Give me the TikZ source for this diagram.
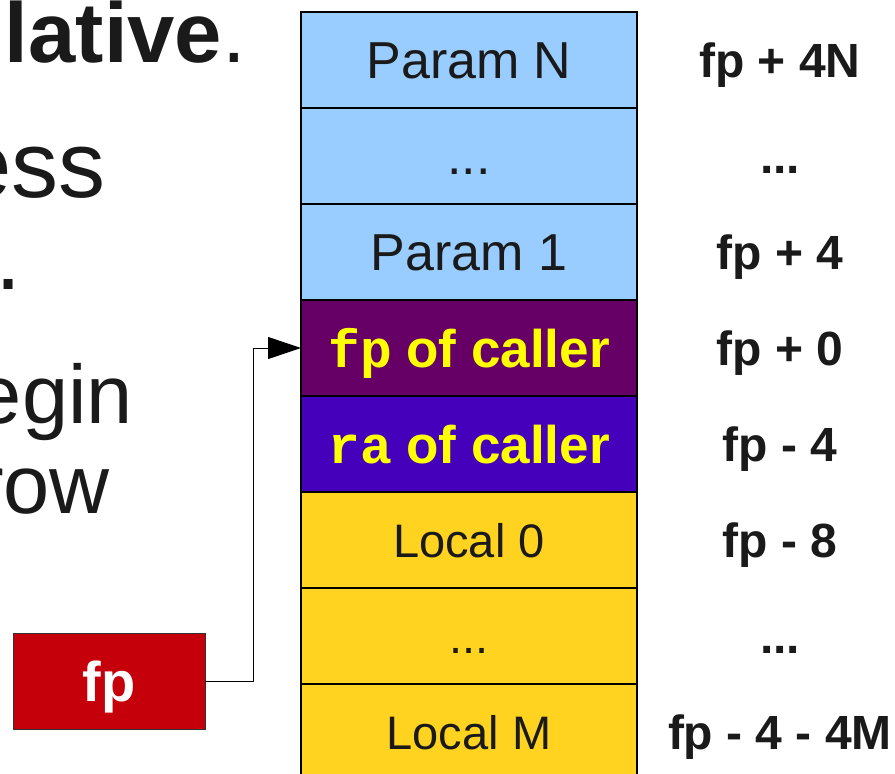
\documentclass[tikz,border=0pt]{standalone}
\usepackage{fontspec}
\setmainfont{Liberation Sans}
\setmonofont{Liberation Mono}
\usetikzlibrary{positioning,arrows.meta}

\begin{document}
\begin{tikzpicture}[x=1pt,y=-1pt,
    slot/.style={draw=black, line width=1.2pt, minimum width=336pt, minimum height=96pt, inner sep=0pt, outer sep=0pt, text depth=0pt},
    param/.style={slot, fill=paramColour, text=textColour, font=\fontsize{52}{60}\selectfont, text height=37pt},
    caller/.style={slot, text=callerText, font=\fontsize{53}{60}\selectfont\bfseries, text height=38pt},
    local/.style={slot, fill=localColour, text=textColour, font=\fontsize{47}{56}\selectfont, text height=34pt},
    offset/.style={inner sep=0pt, text=textColour, font=\fontsize{48}{56}\selectfont\bfseries, text height=35pt, text depth=0pt},
    bullet/.style={anchor=base east, inner sep=0pt, text=textColour}
]
    % Define colours
    \definecolor{textColour}{HTML}{1A1A1A}
    \definecolor{paramColour}{HTML}{99CCFF}
    \definecolor{fpColour}{HTML}{660066}
    \definecolor{raColour}{HTML}{4400BB}
    \definecolor{localColour}{HTML}{FFD320}
    \definecolor{callerText}{HTML}{FFFF00}
    \definecolor{regColour}{HTML}{C5000B}

    % Three dots for skipped slots
    \def\skipDots{...}

    % Fix the page size
    \useasboundingbox (0,0) rectangle (895,774);

    % Slide text cut off on the left
    \node[bullet, font=\fontsize{85}{90}\selectfont] (titleTail) at (246,62) {\textbf{lative}.};
    \node[bullet, font=\fontsize{94}{100}\selectfont] (lineOne) at (106,197) {ess};
    \node[bullet, font=\fontsize{94}{100}\selectfont] (lineTwo) at (22,289) {.};
    \node[bullet, font=\fontsize{83}{90}\selectfont] (lineThree) at (133,423) {egin};
    \node[bullet, font=\fontsize{83}{90}\selectfont] (lineFour) at (110,513) {row};

    % Draw the stack frame
    \node[param] (paramN) at (469,60) {Param N};
    \node[param, below=0pt of paramN] (paramDots) {\skipDots};
    \node[param, below=0pt of paramDots] (paramOne) {Param 1};
    \node[caller, fill=fpColour, below=0pt of paramOne] (fpCaller) {\texttt{fp} of caller};
    \node[caller, fill=raColour, below=0pt of fpCaller] (raCaller) {\texttt{ra} of caller};
    \node[local, below=0pt of raCaller] (localZero) {Local 0};
    \node[local, below=0pt of localZero] (localDots) {\skipDots};
    \node[local, below=0pt of localDots] (localM) {Local M};

    % Label the offsets from fp
    \coordinate (labelCol) at (780,0);
    \foreach \slot/\off in {paramN/fp + 4N, paramDots/\skipDots, paramOne/fp + 4, fpCaller/fp + 0,
                            raCaller/fp - 4, localZero/fp - 8, localDots/\skipDots, localM/fp - 4 - 4M}
        \node[offset] (off-\slot) at (\slot -| labelCol) {\off};

    % Draw the fp register and its pointer
    \node[fill=regColour, draw=black!80, line width=0.6pt, minimum width=192pt, minimum height=96pt,
          inner sep=0pt, text=white, font=\fontsize{56}{60}\selectfont\bfseries,
          text height=40pt, text depth=0pt] (fpReg) at (109,681) {fp};
    \draw[line width=0.9pt, -{Triangle[length=33pt,width=22pt]}] (fpReg.east) -- ++(48,0) |- (fpCaller.west);

\end{tikzpicture}
\end{document}
